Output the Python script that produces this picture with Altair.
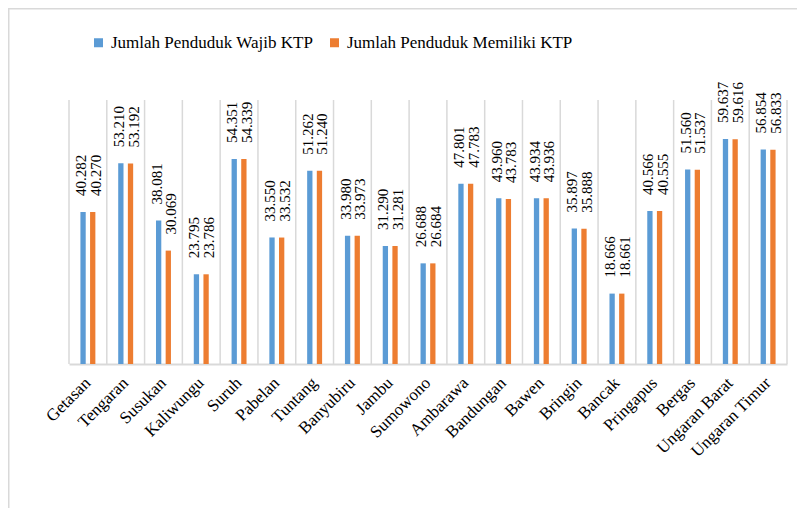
import altair as alt
import pandas as pd

categories = ["Getasan", "Tengaran", "Susukan", "Kaliwungu", "Suruh", "Pabelan",
              "Tuntang", "Banyubiru", "Jambu", "Sumowono", "Ambarawa", "Bandungan",
              "Bawen", "Bringin", "Bancak", "Pringapus", "Bergas", "Ungaran Barat",
              "Ungaran Timur"]
wajib_ktp = [40282, 53210, 38081, 23795, 54351, 33550, 51262, 33980, 31290, 26688,
             47801, 43960, 43934, 35897, 18666, 40566, 51560, 59637, 56854]
memiliki_ktp = [40270, 53192, 30069, 23786, 54339, 33532, 51240, 33973, 31281, 26684,
                47783, 43783, 43936, 35888, 18661, 40555, 51537, 59616, 56833]
series_names = ["Jumlah Penduduk Wajib KTP", "Jumlah Penduduk Memiliki KTP"]
series_colors = ["#5B9BD5", "#ED7D31"]

rows = []
for c, a, b in zip(categories, wajib_ktp, memiliki_ktp):
    rows.append({"cat": c, "series": series_names[0], "value": a})
    rows.append({"cat": c, "series": series_names[1], "value": b})
df = pd.DataFrame(rows)

W, H = 718, 264
FONT = "Liberation Serif"
GRID = "#d9d9d9"

x_enc = alt.X("cat:N", sort=categories, title=None,
              scale=alt.Scale(paddingInner=0, paddingOuter=0),
              axis=alt.Axis(labelAngle=-45, labelFont=FONT, labelFontSize=17,
                            labelColor="black", labelPadding=16, ticks=False,
                            domainColor=GRID, domainWidth=2, grid=False,
                            labelAlign="right", labelBaseline="middle",
                            labelLimit=300))
xoff_enc = alt.XOffset("series:N", sort=series_names,
                       scale=alt.Scale(paddingInner=0, paddingOuter=0.957))
y_enc = alt.Y("value:Q", axis=None, scale=alt.Scale(domain=[0, 70000], nice=False))

base = alt.Chart(df)

grid_rules = alt.Chart(pd.DataFrame({"cat": categories})).mark_rule(
    color=GRID, strokeWidth=1.5
).encode(
    x=alt.X("cat:N", sort=categories, bandPosition=0),
    y=alt.value(0), y2=alt.value(H)
)
right_rule = alt.Chart(pd.DataFrame({"a": [0]})).mark_rule(
    color=GRID, strokeWidth=1.5
).encode(x=alt.value(W), y=alt.value(0), y2=alt.value(H))

frame_left = alt.Chart(pd.DataFrame({"a": [0]})).mark_rule(
    color=GRID, strokeWidth=2
).encode(x=alt.value(-60.5), y=alt.value(-92), y2=alt.value(420))
frame_top = alt.Chart(pd.DataFrame({"a": [0]})).mark_rule(
    color=GRID, strokeWidth=2
).encode(y=alt.value(-91.5), x=alt.value(-61), x2=alt.value(800))

bars = base.mark_bar(size=5.3).encode(
    x=x_enc, xOffset=xoff_enc, y=y_enc,
    color=alt.Color("series:N", sort=series_names,
                    scale=alt.Scale(domain=series_names, range=series_colors),
                    legend=alt.Legend(title=None, orient="none", legendX=21,
                                      legendY=-66, direction="horizontal",
                                      columns=2, columnPadding=12, padding=0,
                                      symbolType="square", symbolSize=81,
                                      symbolStrokeWidth=0, labelFont=FONT,
                                      labelFontSize=17, labelColor="black",
                                      labelOffset=4, labelLimit=400))
)

label_expr = "replace(format(datum.value, ','), ',', '.')"

text_a = base.transform_filter(
    alt.datum.series == series_names[0]
).transform_calculate(lbl=label_expr).mark_text(
    angle=270, align="left", baseline="middle", dx=16, dy=-2,
    font=FONT, fontSize=15, color="black"
).encode(x=x_enc, xOffset=xoff_enc, y=y_enc, text="lbl:N")

text_b = base.transform_filter(
    alt.datum.series == series_names[1]
).transform_calculate(lbl=label_expr).mark_text(
    angle=270, align="left", baseline="middle", dx=16, dy=3,
    font=FONT, fontSize=15, color="black"
).encode(x=x_enc, xOffset=xoff_enc, y=y_enc, text="lbl:N")

chart = alt.layer(
    frame_left, frame_top, grid_rules, right_rule, bars, text_a, text_b
).properties(
    width=W, height=H,
    autosize=alt.AutoSizeParams(type="none"),
    padding={"left": 61, "top": 92, "right": 10, "bottom": 144},
    background="white"
).configure(font=FONT).configure_view(strokeWidth=0).configure_legend(
    labelFont=FONT, labelFontSize=17, labelColor="black"
)

chart.save("out.html", embed_options={"renderer": "svg", "actions": False})
